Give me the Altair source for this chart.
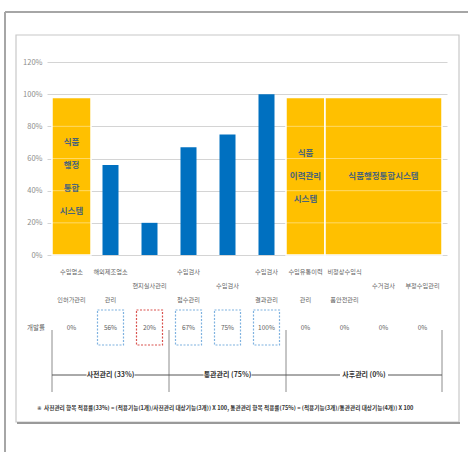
import altair as alt
import pandas as pd

FONT = "Noto Sans CJK KR"

categories = ["수입업소 인허가관리", "해외제조업소 관리", "현지실사관리", "수입검사 접수관리", "수입검사",
              "수입검사 결과관리", "수입유통이력 관리", "비정상수입식 품안전관리", "수거검사", "부정수입관리"]
label_lines = [["수입업소", "인허가관리"], ["해외제조업소", "관리"], ["현지실사관리"], ["수입검사", "접수관리"],
               ["수입검사"], ["수입검사", "결과관리"], ["수입유통이력", "관리"], ["비정상수입식", "품안전관리"],
               ["수거검사"], ["부정수입관리"]]
rates = [0.0, 0.56, 0.20, 0.67, 0.75, 1.00, 0.0, 0.0, 0.0, 0.0]
rate_labels = ["0%", "56%", "20%", "67%", "75%", "100%", "0%", "0%", "0%", "0%"]
box_style = [None, "blue", "red", "blue", "blue", "blue", None, None, None, None]

system_names = [["식품", "행정", "통합", "시스템"], ["식품", "이력관리", "시스템"], ["식품행정통합시스템"]]
system_first = [0, 6, 7]
system_last = [0, 6, 9]
system_level = 0.98

group_names = ["사전관리 (33%)", "통관관리 (75%)", "사후관리 (0%)"]
group_first = [0, 3, 6]
group_last = [2, 5, 9]

y_ticks = [0, 0.2, 0.4, 0.6, 0.8, 1.0, 1.2]
row_label = "개발률"
note_mark = "※"
footnote = ("사전관리 항목 적용률(33%) = (적용기능(1개)/사전관리 대상기능(3개)) X 100, "
            "통관관리 항목 적용률(75%) = (적용기능(3개)/통관관리 대상기능(4개)) X 100")

n = len(categories)
cols = pd.DataFrame({
    "cat": categories,
    "rate": rates,
    "rate_label": rate_labels,
    "box": box_style,
})
cols["idx"] = range(n)
cols["mid"] = cols["idx"] + 0.5

# one row per label line, with its position within the label block
cat_lines = pd.DataFrame([
    {"mid": i + 0.5, "line": t, "pos": j - (len(ls) - 1) / 2}
    for i, ls in enumerate(label_lines) for j, t in enumerate(ls)
])

systems = pd.DataFrame({"first": system_first, "last": system_last})
systems["x0"] = systems["first"]
systems["x1"] = systems["last"] + 1
systems["xm"] = (systems["x0"] + systems["x1"]) / 2
systems["y0"] = 0.0
systems["y1"] = system_level
systems["ym"] = system_level / 2

sys_lines = pd.DataFrame([
    {"xm": (f + l + 1) / 2, "ym": system_level / 2, "line": t, "pos": j - (len(ls) - 1) / 2}
    for ls, f, l in zip(system_names, system_first, system_last) for j, t in enumerate(ls)
])

grid_over = systems.merge(pd.DataFrame({"lvl": [t for t in y_ticks if 0 < t < system_level]}), how="cross")

groups = pd.DataFrame({"name": group_names, "first": group_first, "last": group_last})
groups["x0"] = groups["first"]
groups["x1"] = groups["last"] + 1
groups["xm"] = (groups["x0"] + groups["x1"]) / 2
bounds = pd.DataFrame({"b": sorted(set(groups["x0"]).union(set(groups["x1"])))})

xs = alt.Scale(domain=[0, n], nice=False, zero=False)
ys = alt.Scale(domain=[0, 1.2], nice=False)
yaxis = alt.Axis(values=y_ticks, format=".0%", grid=True, gridColor="#d4d4d4", domain=False, ticks=False,
                 labelColor="#8c8c8c", labelFontSize=7.5, labelPadding=5, labelFont=FONT,
                 labelOverlap=False, title=None)
X = lambda f: alt.X(f, type="quantitative", scale=xs, axis=None)
Y = lambda f: alt.Y(f, type="quantitative", scale=ys, axis=yaxis)

one = pd.DataFrame({"k": [0]})

outer = alt.Chart(one).mark_rule(color="#a6a6a6", strokeWidth=2).encode(
    x=alt.value(-42), x2=alt.value(430), y=alt.value(-50), y2=alt.value(-50))
outer_left = alt.Chart(one).mark_rule(color="#a6a6a6", strokeWidth=2).encode(
    x=alt.value(-42), x2=alt.value(-42), y=alt.value(-50), y2=alt.value(400))
inner = alt.Chart(one).mark_rect(fillOpacity=0, stroke="#c8c8c8", strokeWidth=1.2).encode(
    x=alt.value(-31), x2=alt.value(412), y=alt.value(-27), y2=alt.value(360))
inner_shadow = alt.Chart(one).mark_rule(color="#9a9a9a", strokeWidth=2).encode(
    x=alt.value(-30), x2=alt.value(413), y=alt.value(361), y2=alt.value(361))

bars = alt.Chart(cols).mark_bar(width=16, color="#0070c0").encode(x=X("mid"), y=Y("rate"))

orange = alt.Chart(systems).mark_rect(color="#ffc000", stroke="white", strokeWidth=1.5).encode(
    x=X("x0"), x2="x1", y=Y("y0"), y2="y1")

orange_grid = alt.Chart(grid_over).mark_rule(color="white", opacity=0.4, strokeWidth=1).encode(
    x=X("x0"), x2="x1", y=Y("lvl"))

SYS_LH = 23
CAT_LH = 28

orange_text = [
    alt.Chart(sys_lines).transform_filter(f"datum.pos == {p}").mark_text(
        font=FONT, fontSize=8.5, fontWeight="bold", color="#4a6478", baseline="middle", dy=p * SYS_LH).encode(
        x=X("xm"), y=Y("ym"), text="line")
    for p in sorted(sys_lines["pos"].unique())
]

cat_text = [
    alt.Chart(cat_lines).transform_filter(f"datum.pos == {p}").mark_text(
        font=FONT, fontSize=6.2, color="#5f5f5f", baseline="middle", dy=p * CAT_LH).encode(
        x=X("mid"), y=alt.value(224), text="line")
    for p in sorted(cat_lines["pos"].unique())
]

val_text = alt.Chart(cols).mark_text(font=FONT, fontSize=6.5, color="#5f5f5f", baseline="middle").encode(
    x=X("mid"), y=alt.value(266), text="rate_label")

boxes = alt.Chart(cols).transform_filter("datum.box != null").mark_bar(
    width=26, fillOpacity=0, strokeDash=[2, 1.5], strokeWidth=1.2).encode(
    x=X("mid"), y=alt.value(248), y2=alt.value(283),
    stroke=alt.Color("box:N", scale=alt.Scale(domain=["blue", "red"], range=["#7fb2e0", "#d9534f"]), legend=None))

row_text = alt.Chart(one).mark_text(font=FONT, fontSize=6.5, color="#5f5f5f", text=row_label).encode(
    x=alt.value(-11), y=alt.value(266))

vlines = alt.Chart(bounds).mark_rule(color="#8c8c8c", strokeWidth=1).encode(
    x=X("b"), y=alt.value(268), y2=alt.value(330))

hlines = alt.Chart(groups).mark_rule(color="#555555", strokeWidth=1).encode(
    x=X("x0"), x2="x1", y=alt.value(313))

text_bg = alt.Chart(groups).mark_bar(width=48, color="white").encode(
    x=X("xm"), y=alt.value(307), y2=alt.value(319))

group_text = alt.Chart(groups).mark_text(font=FONT, fontSize=7, fontWeight="bold", color="#333333",
                                         baseline="middle").encode(
    x=X("xm"), y=alt.value(313), text="name")

foot_mark = alt.Chart(one).mark_text(font="DejaVu Sans", fontSize=5.6, color="#333333", align="left",
                                     text=note_mark, baseline="middle").encode(
    x=alt.value(-10), y=alt.value(346))

foot = alt.Chart(one).mark_text(font=FONT, fontSize=5.65, fontWeight="bold", color="#333333", align="left",
                                text=footnote, baseline="middle").encode(
    x=alt.value(-3), y=alt.value(346))

chart = alt.layer(
    outer, outer_left, inner, inner_shadow, bars, orange, orange_grid, *orange_text, *cat_text, val_text,
    boxes, row_text, vlines, hlines, text_bg, group_text, foot_mark, foot
).properties(
    width=400, height=193,
    autosize=alt.AutoSizeParams(type="none"),
    padding={"left": 47, "top": 62, "right": 21, "bottom": 197},
    background="white",
).configure_view(stroke=None)

chart.save("out.html", embed_options={"renderer": "svg", "actions": False})
